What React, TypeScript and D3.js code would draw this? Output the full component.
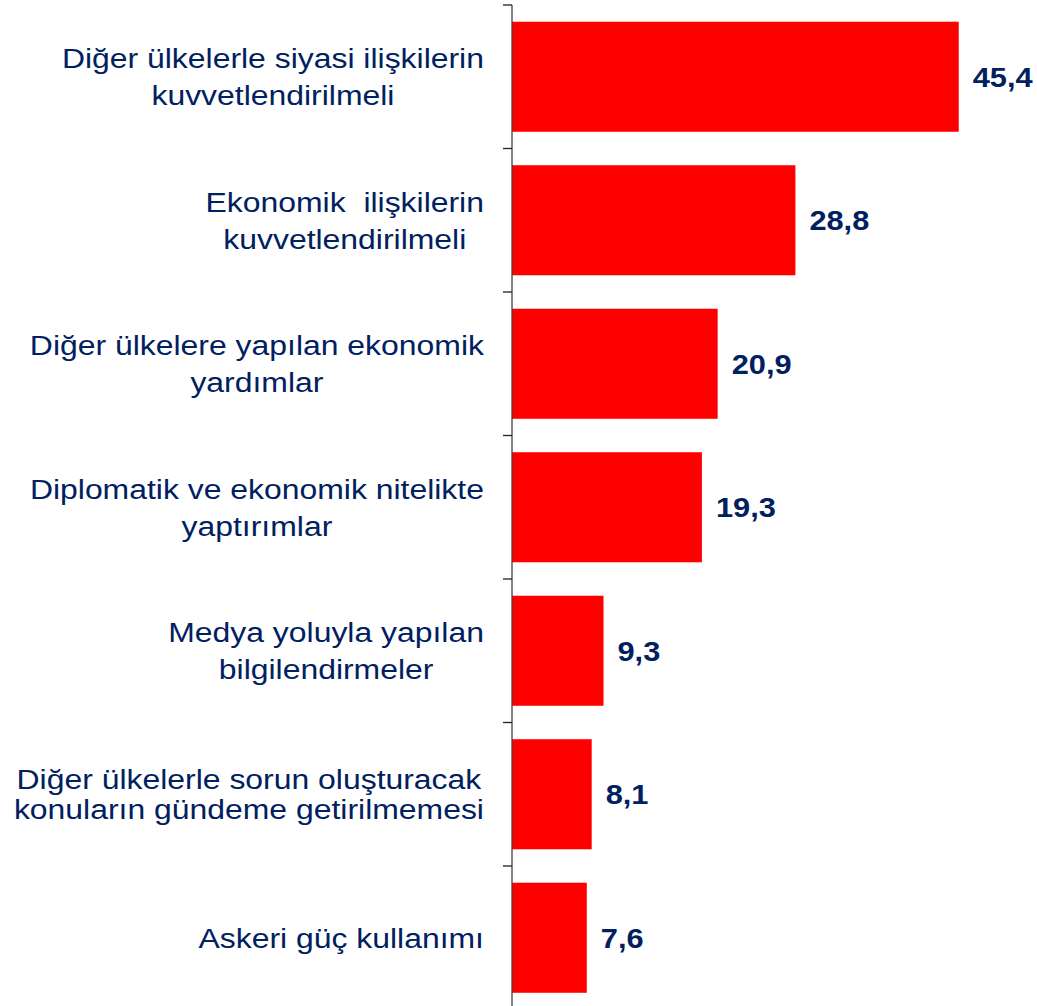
import React from "react";
import { scaleLinear, scaleBand } from "d3";

// categories (top to bottom) and percentages
const categories = [
  ["Diğer ülkelerle siyasi ilişkilerin", "kuvvetlendirilmeli"],
  ["Ekonomik  ilişkilerin", "kuvvetlendirilmeli"],
  ["Diğer ülkelere yapılan ekonomik", "yardımlar"],
  ["Diplomatik ve ekonomik nitelikte", "yaptırımlar"],
  ["Medya yoluyla yapılan", "bilgilendirmeler"],
  ["Diğer ülkelerle sorun oluşturacak", "konuların gündeme getirilmemesi"],
  ["Askeri güç kullanımı"],
];
const values = [45.4, 28.8, 20.9, 19.3, 9.3, 8.1, 7.6];
const valueLabels = ["45,4", "28,8", "20,9", "19,3", "9,3", "8,1", "7,6"];

const W = 1037;
const H = 1006;
const NAVY = "#002060";
const FONT = "'Liberation Sans', Arial, sans-serif";
const STRETCH = 1.14; // text looks horizontally stretched in the source

let ctx: CanvasRenderingContext2D | null = null;
function textWidth(s: string, font: string) {
  if (!ctx) ctx = document.createElement("canvas").getContext("2d");
  ctx!.font = font;
  return ctx!.measureText(s).width;
}

export default function App() {
  const axisX = 512;
  const ids = categories.map((_, i) => String(i));
  const y = scaleBand().domain(ids).range([5, 5 + 7 * 143.5]).paddingInner(0.233).paddingOuter(0.1165);
  const x = scaleLinear().domain([0, 50]).range([axisX, 1004]);
  const step = y.step();
  const tickYs = ids.map((_, i) => 5 + i * step);

  const labelFont = `28px ${FONT}`;

  return (
    <svg width={W} height={H} style={{ position: "absolute", left: 0, top: 0, background: "#fff" }}>
      {values.map((v, i) => (
        <rect key={"b" + i} x={x(0)} y={y(String(i))!} width={x(v) - x(0)} height={y.bandwidth()} fill="#FF0000" />
      ))}
      <line x1={axisX} x2={axisX} y1={5} y2={H} stroke="#404040" strokeWidth={1.3} />
      {tickYs.map((t, i) => (
        <line key={"t" + i} x1={axisX - 9} x2={axisX} y1={t} y2={t} stroke="#202020" strokeWidth={1.3} />
      ))}
      {categories.map((lines, i) => {
        const cy = y(String(i))! + y.bandwidth() / 2;
        const gap = i === 5 ? 30 : 37;
        const maxW = Math.max(...lines.map(l => textWidth(l, labelFont))) * STRETCH;
        const cx = 484 - maxW / 2;
        const first = cy - ((lines.length - 1) * gap) / 2 + 10;
        return lines.map((l, j) => (
          <text
            key={"l" + i + "_" + j}
            transform={`translate(${cx},${first + j * gap}) scale(${STRETCH},1)`}
            textAnchor="middle"
            fontFamily={FONT}
            fontSize={28}
            fill={NAVY}
            style={{ whiteSpace: "pre" }}
          >
            {l}
          </text>
        ));
      })}
      {values.map((v, i) => (
        <text
          key={"v" + i}
          transform={`translate(${x(v) + 14},${y(String(i))! + y.bandwidth() / 2 + 10}) scale(${STRETCH},1)`}
          fontFamily={FONT}
          fontSize={27}
          fontWeight="bold"
          fill={NAVY}
        >
          {valueLabels[i]}
        </text>
      ))}
    </svg>
  );
}
